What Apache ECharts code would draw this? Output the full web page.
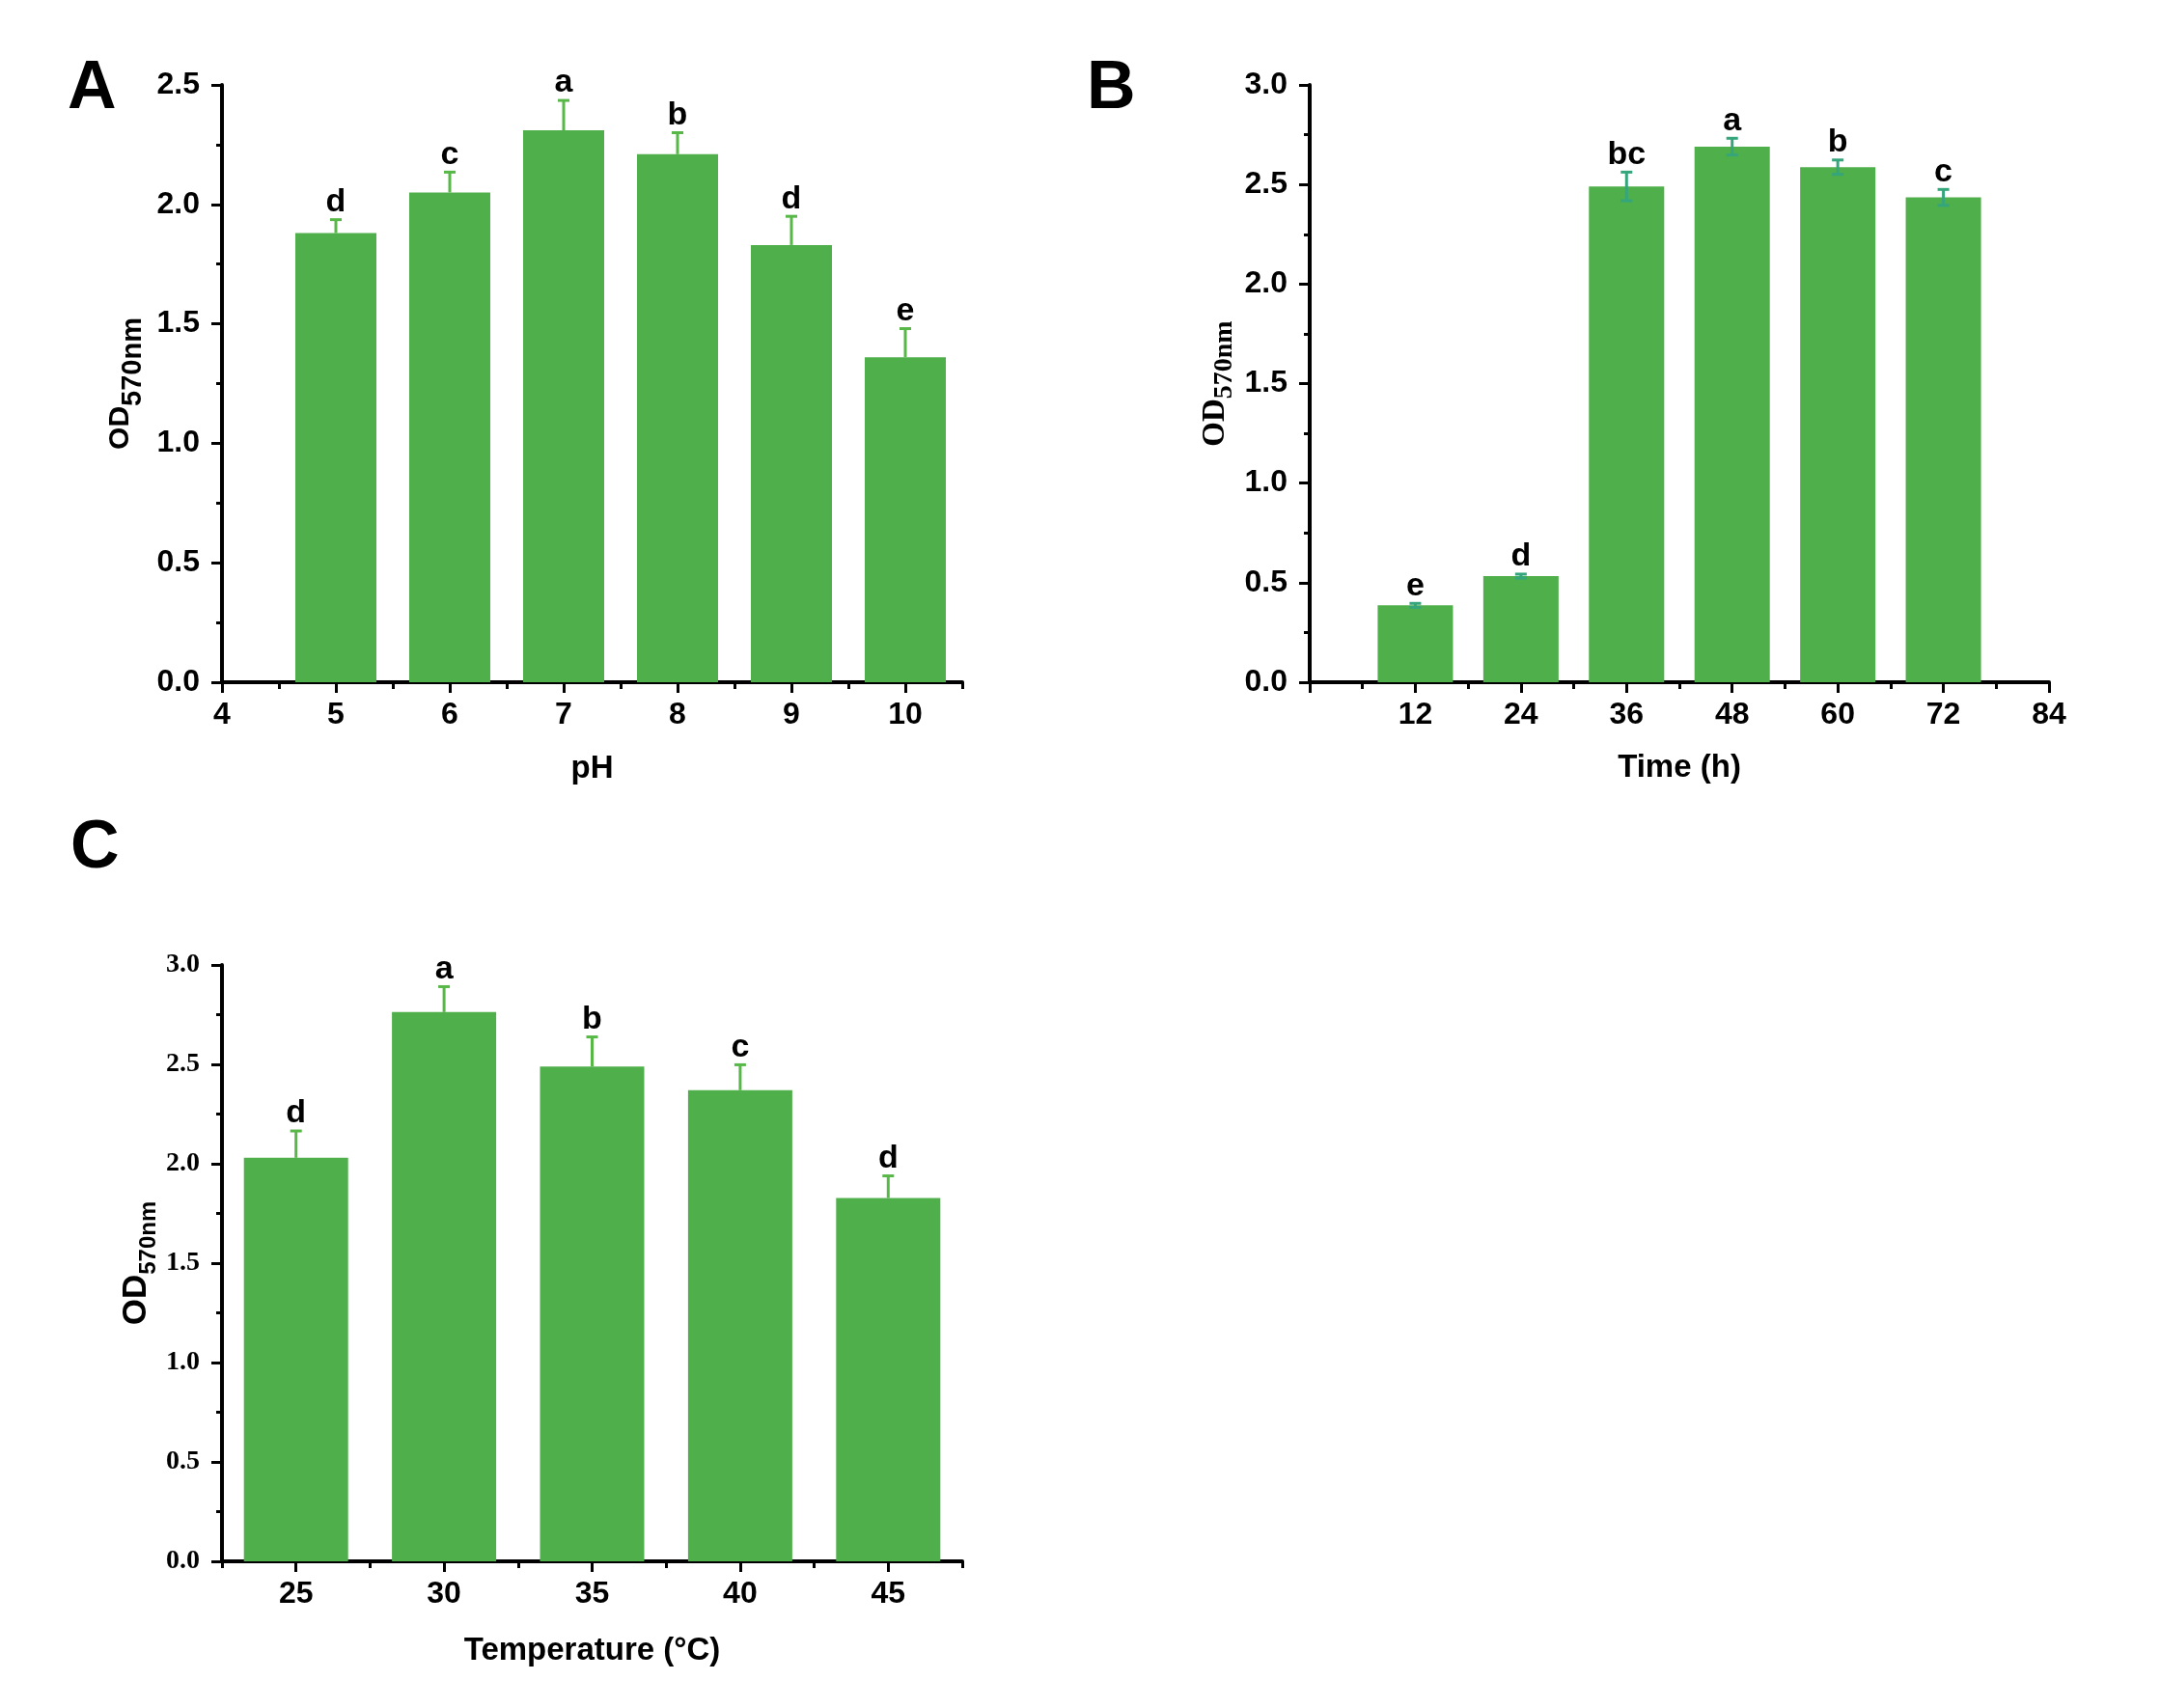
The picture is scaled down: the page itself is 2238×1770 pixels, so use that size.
<!DOCTYPE html>
<html><head><meta charset="utf-8">
<script src="https://cdn.jsdelivr.net/npm/echarts@6/dist/echarts.min.js"></script>
<style>html,body{margin:0;padding:0;background:#fff}#c{width:2238px;height:1770px}</style>
</head><body><div id="c"></div>
<script>
// Panel A: pH
const phX = [5, 6, 7, 8, 9, 10];
const phMean = [1.88, 2.05, 2.31, 2.21, 1.83, 1.36];
const phErr = [0.056, 0.085, 0.125, 0.09, 0.12, 0.12];
const phLetters = ['d', 'c', 'a', 'b', 'd', 'e'];
const phTicks = [4, 5, 6, 7, 8, 9, 10];
// Panel B: Time
const timeX = [12, 24, 36, 48, 60, 72];
const timeMean = [0.386, 0.533, 2.49, 2.69, 2.587, 2.435];
const timeErr = [0.01, 0.01, 0.072, 0.042, 0.036, 0.04];
const timeLetters = ['e', 'd', 'bc', 'a', 'b', 'c'];
// Panel C: Temperature
const tempX = [25, 30, 35, 40, 45];
const tempMean = [2.03, 2.763, 2.489, 2.37, 1.828];
const tempErr = [0.135, 0.128, 0.149, 0.128, 0.111];
const tempLetters = ['d', 'a', 'b', 'c', 'd'];
const tempTicks = [25, 30, 35, 40, 45];
const tempMinorTicks = [22.5, 27.5, 32.5, 37.5, 42.5, 47.5];

const SANS = 'Liberation Sans, Arial, sans-serif';
const SERIF = 'Liberation Serif, Times New Roman, serif';
const BAR = '#4FAF4A';
const ERR_G = '#57B847';
const ERR_T = '#35A57C';

function axisBase(extra) {
  return Object.assign({
    axisLine: {show: true, onZero: false, lineStyle: {color: '#000', width: 4}},
    axisTick: {show: true, length: 11, lineStyle: {color: '#000', width: 3}},
    splitLine: {show: false},
    nameLocation: 'middle',
    nameMoveOverlap: false
  }, extra);
}
function yAx(grid, max, labelFont, name, rich, gap) {
  return axisBase({
    type: 'value', gridIndex: grid, min: 0, max: max, interval: 0.5,
    minorTick: {show: true, splitNumber: 2, length: 6, lineStyle: {color: '#000', width: 3}},
    axisLabel: {fontFamily: labelFont, fontWeight: 'bold', fontSize: labelFont === SERIF ? 28 : 32, color: '#000', margin: 23,
      formatter: v => v.toFixed(1)},
    name: name, nameGap: gap, nameRotate: 90,
    nameTextStyle: {rich: rich}
  });
}
function xLabel() {
  return {fontFamily: SANS, fontWeight: 'bold', fontSize: 32, color: '#000', margin: 18};
}
function xName() {
  return {fontFamily: SANS, fontWeight: 'bold', fontSize: 33, color: '#000'};
}
function minorX(grid, min, max, extra) {
  return Object.assign({
    type: 'value', gridIndex: grid, min: min, max: max, position: 'bottom',
    axisLine: {show: false}, axisLabel: {show: false}, splitLine: {show: false},
    axisTick: {show: true, length: 7, lineStyle: {color: '#000', width: 3}}
  }, extra);
}

function errSeries(xi, yi, xs, means, errs, letters, color, both) {
  return {
    type: 'custom', xAxisIndex: xi, yAxisIndex: yi, z: 5, clip: false,
    data: xs.map((x, i) => [x, means[i], errs[i]]),
    encode: {x: 0, y: 1},
    renderItem: function (params, api) {
      const x = api.value(0), m = api.value(1), e = api.value(2);
      const top = api.coord([x, m + e]);
      const bot = api.coord([x, both ? m - e : m]);
      const hw = 6;
      const st = {stroke: color, lineWidth: 3};
      const ch = [
        {type: 'line', shape: {x1: top[0], y1: top[1], x2: bot[0], y2: bot[1]}, style: st},
        {type: 'line', shape: {x1: top[0] - hw, y1: top[1], x2: top[0] + hw, y2: top[1]}, style: st},
        {type: 'text', x: top[0], y: top[1] - 1, style: {text: letters[params.dataIndex], fill: '#000',
          font: 'bold 34px ' + SANS, textAlign: 'center', textVerticalAlign: 'bottom'}}
      ];
      if (both) ch.push({type: 'line', shape: {x1: bot[0] - hw, y1: bot[1], x2: bot[0] + hw, y2: bot[1]}, style: st});
      return {type: 'group', children: ch};
    }
  };
}

const richA = {
  a: {fontFamily: SANS, fontWeight: 'bold', fontSize: 30, color: '#000', lineHeight: 30, verticalAlign: 'top'},
  b: {fontFamily: SANS, fontWeight: 'bold', fontSize: 29, color: '#000', lineHeight: 42, verticalAlign: 'bottom'}
};
const richB = {
  a: {fontFamily: SERIF, fontWeight: 'bold', fontSize: 33, color: '#000', lineHeight: 33, verticalAlign: 'top'},
  b: {fontFamily: SERIF, fontWeight: 'bold', fontSize: 28, color: '#000', lineHeight: 40, verticalAlign: 'bottom'}
};
const richC = {
  a: {fontFamily: SANS, fontWeight: 'bold', fontSize: 35, color: '#000', lineHeight: 35, verticalAlign: 'top'},
  b: {fontFamily: SANS, fontWeight: 'bold', fontSize: 24, color: '#000', lineHeight: 42, verticalAlign: 'bottom'}
};

const option = {
  animation: false,
  backgroundColor: '#fff',
  grid: [
    {left: 230, top: 88, width: 767, height: 619},
    {left: 1357, top: 88, width: 766, height: 619},
    {left: 230, top: 1000, width: 767, height: 618}
  ],
  xAxis: [
    axisBase({type: 'value', gridIndex: 0, min: 4, max: 10.5,
      axisTick: {show: true, length: 11, customValues: phTicks, lineStyle: {color: '#000', width: 3}},
      axisLabel: Object.assign(xLabel(), {customValues: phTicks}),
      name: 'pH', nameGap: 73, nameTextStyle: xName()}),
    minorX(0, 4, 10.5, {interval: 0.5}),
    axisBase({type: 'value', gridIndex: 1, min: 0, max: 84, interval: 12,
      minorTick: {show: true, splitNumber: 2, length: 7, lineStyle: {color: '#000', width: 3}},
      axisLabel: Object.assign(xLabel(), {showMinLabel: false}),
      name: 'Time (h)', nameGap: 72, nameTextStyle: xName()}),
    axisBase({type: 'value', gridIndex: 2, min: 22.5, max: 47.5,
      axisTick: {show: true, length: 11, customValues: tempTicks, lineStyle: {color: '#000', width: 3}},
      axisLabel: Object.assign(xLabel(), {customValues: tempTicks}),
      name: 'Temperature (°C)', nameGap: 76, nameTextStyle: xName()}),
    minorX(2, 22.5, 47.5, {axisTick: {show: true, length: 7, customValues: tempMinorTicks, lineStyle: {color: '#000', width: 3}}})
  ],
  yAxis: [
    yAx(0, 2.5, SANS, '{a|OD}{b|570nm}', richA, 78),
    yAx(1, 3, SANS, '{a|OD}{b|570nm}', richB, 74),
    yAx(2, 3, SERIF, '{a|OD}{b|570nm}', richC, 64)
  ],
  graphic: [
    {type: 'text', left: 70, top: 58, style: {text: 'A', font: 'bold 70px ' + SANS, fill: '#000'}},
    {type: 'text', left: 1126, top: 58, style: {text: 'B', font: 'bold 70px ' + SANS, fill: '#000'}},
    {type: 'text', left: 73, top: 845, style: {text: 'C', font: 'bold 70px ' + SANS, fill: '#000'}}
  ],
  series: [
    {type: 'bar', xAxisIndex: 0, yAxisIndex: 0, barWidth: 84, itemStyle: {color: BAR},
      data: phX.map((x, i) => [x, phMean[i]])},
    errSeries(0, 0, phX, phMean, phErr, phLetters, ERR_G, false),
    {type: 'bar', xAxisIndex: 2, yAxisIndex: 1, barWidth: 78, itemStyle: {color: BAR},
      data: timeX.map((x, i) => [x, timeMean[i]])},
    errSeries(2, 1, timeX, timeMean, timeErr, timeLetters, ERR_T, true),
    {type: 'bar', xAxisIndex: 3, yAxisIndex: 2, barWidth: 108, itemStyle: {color: BAR},
      data: tempX.map((x, i) => [x, tempMean[i]])},
    errSeries(3, 2, tempX, tempMean, tempErr, tempLetters, ERR_G, false)
  ]
};
const chart = echarts.init(document.getElementById('c'));
chart.setOption(option);
</script>
</body></html>
